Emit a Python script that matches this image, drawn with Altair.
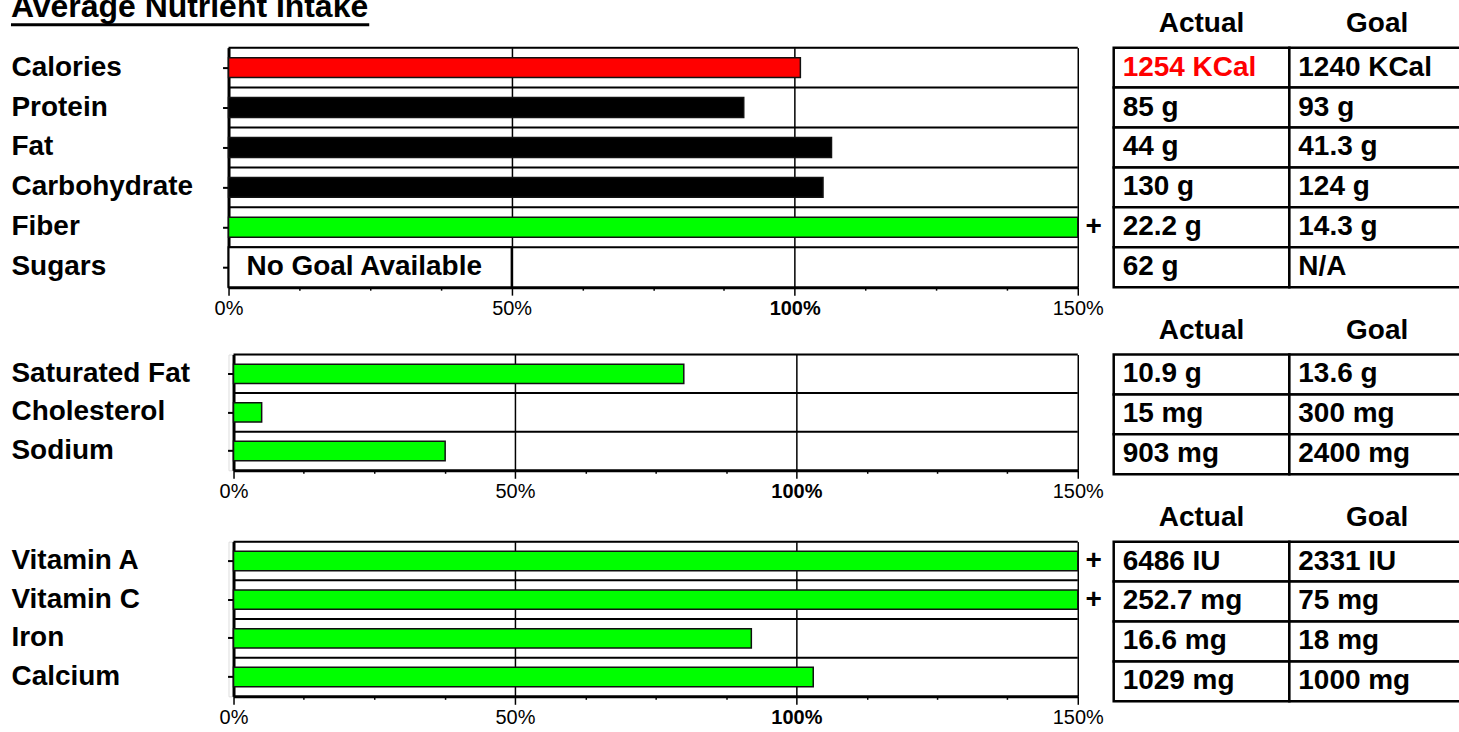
import altair as alt
import pandas as pd

FONT = "Liberation Sans"

title_text = "Average Nutrient Intake"
table_columns = ["Actual", "Goal"]
no_goal_text = "No Goal Available"
axis_ticks = [0, 12.5, 25, 37.5, 50, 62.5, 75, 87.5, 100, 112.5, 125, 137.5, 150]

# Panel 1
p1_nutrients = ["Calories", "Protein", "Fat", "Carbohydrate", "Fiber", "Sugars"]
p1_percent = [101, 91, 106.5, 105, 155, None]
p1_status = ["over", "neutral", "neutral", "neutral", "good", "nogoal"]
p1_actual = ["1254 KCal", "85 g", "44 g", "130 g", "22.2 g", "62 g"]
p1_goal = ["1240 KCal", "93 g", "41.3 g", "124 g", "14.3 g", "N/A"]

# Panel 2
p2_nutrients = ["Saturated Fat", "Cholesterol", "Sodium"]
p2_percent = [80, 5, 37.6]
p2_status = ["good", "good", "good"]
p2_actual = ["10.9 g", "15 mg", "903 mg"]
p2_goal = ["13.6 g", "300 mg", "2400 mg"]

# Panel 3
p3_nutrients = ["Vitamin A", "Vitamin C", "Iron", "Calcium"]
p3_percent = [278, 337, 92, 103]
p3_status = ["good", "good", "good", "good"]
p3_actual = ["6486 IU", "252.7 mg", "16.6 mg", "1029 mg"]
p3_goal = ["2331 IU", "75 mg", "18 mg", "1000 mg"]

status_domain = ["over", "neutral", "good"]
status_range = ["#ff0000", "#000000", "#00ff00"]
color_scale = alt.Scale(domain=status_domain, range=status_range)


def panel(nutrients, percent, status, height, x_range, y_offset, label_pad, extra=None):
    df = pd.DataFrame({"nutrient": nutrients, "pct": percent, "status": status})
    yscale = alt.Scale(domain=nutrients, paddingInner=0, paddingOuter=0)
    yaxis = alt.Axis(
        title=None, labelFont=FONT, labelFontSize=28, labelFontWeight="bold",
        labelColor="black", labelAlign="left", labelPadding=label_pad,
        labelBaseline="middle", labelLimit=0, tickSize=6, tickWidth=2,
        tickColor="black", domainColor="black", domainWidth=3,
        offset=y_offset, grid=False,
    )
    xscale = alt.Scale(domain=[0, 150], range=x_range, clamp=True, nice=False)
    xaxis = alt.Axis(
        values=axis_ticks, title=None,
        labelExpr="datum.value % 50 === 0 ? datum.value + '%' : ''",
        labelFont=FONT, labelFontSize=20, labelColor="black",
        labelFontWeight={"condition": {"test": "datum.value === 100", "value": "bold"}, "value": "normal"},
        tickSize={"condition": {"test": "datum.value % 50 === 0", "value": 8}, "value": 3},
        tickColor="black", tickWidth=1.5,
        grid=True, gridColor="black", gridWidth=1.5,
        gridOpacity={"condition": {"test": "datum.value % 50 === 0", "value": 1}, "value": 0},
        domainColor="black", domainWidth=3, labelPadding=3,
        labelFlush=False, labelOverlap=False,
    )
    y = alt.Y("nutrient:N", sort=nutrients, scale=yscale, axis=yaxis)
    base = alt.Chart(df)

    rules = base.mark_rule(color="black", strokeWidth=2).encode(
        y=alt.Y("nutrient:N", sort=nutrients, scale=yscale, axis=yaxis, bandPosition=0),
        x=alt.datum(0, scale=xscale, axis=xaxis),
        x2=alt.datum(150),
    )
    bars = base.transform_filter("isValid(datum.pct)").mark_bar(
        height={"band": 0.5}, stroke="#111111", strokeWidth=1.5
    ).encode(
        x=alt.X("pct:Q", scale=xscale, axis=xaxis),
        y=y,
        color=alt.Color("status:N", scale=color_scale, legend=None),
    )
    plus = base.transform_filter("datum.pct > 150").mark_text(
        text="+", dx=16, fontSize=28, fontWeight="bold", font=FONT,
        align="center", baseline="middle", color="black",
    ).encode(x=alt.X("pct:Q", scale=xscale), y=y)
    layers = [rules, bars, plus]
    if extra is not None:
        layers += extra(base, y, xscale)
    return alt.layer(*layers).properties(width=851, height=height)


def p1_extra(base, y, xscale):
    nog = base.transform_filter("datum.status === 'nogoal'")
    box = nog.mark_rect(fill="white", stroke="black", strokeWidth=2).encode(
        x=alt.datum(0, scale=xscale), x2=alt.datum(50), y=y
    )
    txt = nog.mark_text(
        text=no_goal_text, align="left", dx=18, fontSize=28, fontWeight="bold",
        font=FONT, baseline="middle", color="black",
    ).encode(x=alt.datum(0, scale=xscale), y=y)
    tdf = pd.DataFrame({"t": [title_text]})
    title = alt.Chart(tdf).mark_text(
        align="left", baseline="alphabetic", fontSize=32, fontWeight="bold",
        font=FONT, color="black",
    ).encode(x=alt.value(-218), y=alt.value(-31), text="t:N")
    underline = alt.Chart(tdf).mark_rule(color="black", strokeWidth=3).encode(
        x=alt.value(-218), x2=alt.value(141), y=alt.value(-23)
    )
    return [box, txt, title, underline]


def table(nutrients, actual, goal, status):
    rows = []
    for i, n in enumerate(nutrients):
        rows.append({"nutrient": n, "col": "Actual", "text": actual[i],
                     "status": "over" if status[i] == "over" else "neutral"})
        rows.append({"nutrient": n, "col": "Goal", "text": goal[i], "status": "neutral"})
    df = pd.DataFrame(rows)
    xscale = alt.Scale(domain=table_columns, paddingInner=0, paddingOuter=0)
    xaxis = alt.Axis(
        orient="top", title=None, labelFont=FONT, labelFontSize=28,
        labelFontWeight="bold", labelColor="black", ticks=False, tickSize=0,
        domain=False, labelPadding=16, labelAngle=0, labelBaseline="alphabetic",
    )
    yscale = alt.Scale(domain=nutrients, paddingInner=0, paddingOuter=0)
    y = alt.Y("nutrient:N", sort=nutrients, scale=yscale, axis=None)
    base = alt.Chart(df)
    cells = base.mark_rect(fill="white", stroke="black", strokeWidth=2.5).encode(
        x=alt.X("col:N", scale=xscale, axis=xaxis), y=y
    )
    texts = base.mark_text(
        align="left", baseline="middle", dx=9, fontSize=28, fontWeight="bold", font=FONT
    ).encode(
        x=alt.X("col:N", scale=xscale, axis=xaxis, bandPosition=0),
        y=y,
        text="text:N",
        color=alt.Color("status:N", scale=color_scale, legend=None),
    )
    return alt.layer(cells, texts).properties(width=352, height=40 * len(nutrients))


p1 = panel(p1_nutrients, p1_percent, p1_status, 240, [0, 851], 0, 212, p1_extra)
p2 = panel(p2_nutrients, p2_percent, p2_status, 116, [5, 851], -5, 217)
p3 = panel(p3_nutrients, p3_percent, p3_status, 155, [5, 851], -5, 217)

t1 = table(p1_nutrients, p1_actual, p1_goal, p1_status)
t2 = table(p2_nutrients, p2_actual, p2_goal, p2_status)
t3 = table(p3_nutrients, p3_actual, p3_goal, p3_status)

chart = alt.concat(
    p1, t1, p2, t2, p3, t3,
    columns=2, bounds="flush",
    spacing={"row": 67.5, "column": 36},
).properties(
    padding={"left": 9, "top": -11, "right": -8, "bottom": 0},
    background="white",
).configure_view(stroke=None).configure(font=FONT)

chart.save("out.html", embed_options={"renderer": "svg", "actions": False})
